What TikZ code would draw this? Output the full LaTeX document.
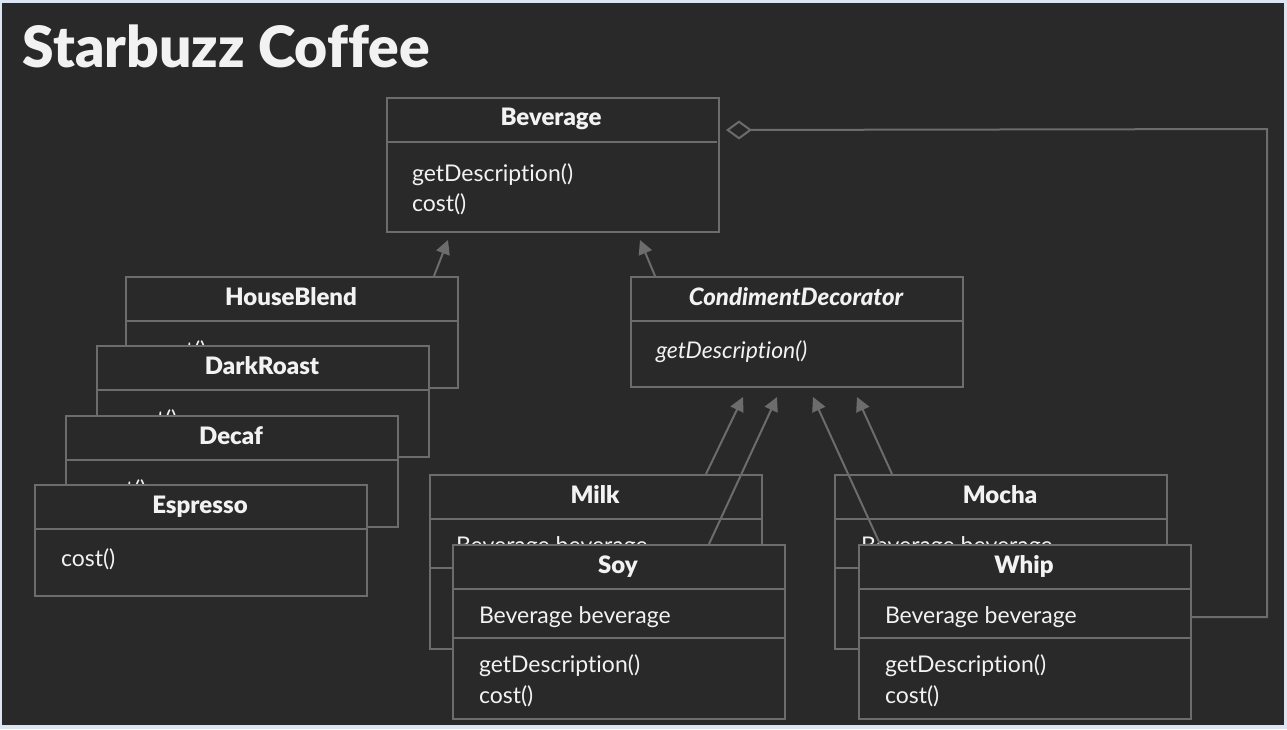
\documentclass[tikz,border=0pt]{standalone}
\usepackage{fontspec}
\setmainfont{Lato}[Ligatures=NoCommon]
\newfontfamily\heavyfont{Lato Black}[Ligatures=NoCommon]
\usetikzlibrary{arrows.meta}
\definecolor{bgc}{HTML}{292929}
\definecolor{framec}{HTML}{DCE6F2}
\definecolor{linec}{HTML}{6C6C6C}
\definecolor{textc}{HTML}{F2F2F2}

\begin{document}
\begin{tikzpicture}[x=1pt, y=-1pt, line width=2pt,
    box/.style={draw=linec, fill=bgc, anchor=north west, inner sep=0pt, minimum width=332pt},
    cname/.style={text=textc, font=\fontsize{24}{28}\selectfont\heavyfont, anchor=base, inner sep=0pt},
    member/.style={text=textc, font=\fontsize{23}{27}\selectfont, anchor=base west, inner sep=0pt},
    isa/.style={draw=linec, -{Triangle[length=14pt, width=14pt]}}]
    % page: light frame, dark board (pixel units, y down)
    \fill[framec] (0,0) rectangle (1287,729);
    \fill[bgc] (2,3) rectangle (1284,725);
    \useasboundingbox (0,0) rectangle (1287,729);
    \node[text=textc, font=\fontsize{57}{60}\selectfont\heavyfont, anchor=base west, inner sep=0pt]
      (title) at (22,67) {Starbuzz Coffee};

    % Beverage
    \node[box, minimum height=134pt] (bev) at (386,97) {};
    \draw[linec] (386,142) -- (717,142);
    \node[cname] (bev-t) at (551,125) {Beverage};
    \node[member] (bev-m1) at (411,181) {getDescription()};
    \node[member] (bev-m2) at (411,211) {cost()};

    % concrete beverages, stacked back to front
    \foreach \n/\t/\x/\y in {hb/HouseBlend/125/276, dr/DarkRoast/96/345, dc/Decaf/65/415, es/Espresso/34/484} {
      \node[box, minimum height=111pt] (\n) at (\x,\y) {};
      \draw[linec] (\x,\y+45) -- (\x+332,\y+45);
      \node[cname] (\n-t) at (\x+166,\y+29) {\t};
      \node[member] (\n-m) at (\x+26,\y+82) {cost()};
    }

    % CondimentDecorator
    \node[box, minimum height=110pt] (cd) at (630,276) {};
    \draw[linec] (630,321) -- (962,321);
    \node[cname, font=\fontsize{24}{28}\selectfont\heavyfont\itshape] (cd-t) at (796,305) {CondimentDecorator};
    \node[member, font=\fontsize{23}{27}\selectfont\itshape] (cd-m) at (655,358) {getDescription()};

    % condiments
    \foreach \n/\t/\x/\y in {milk/Milk/429/474, soy/Soy/452/544, mocha/Mocha/834/474, whip/Whip/858/544} {
      \node[box, minimum height=174pt] (\n) at (\x,\y) {};
      \draw[linec] (\x,\y+45) -- (\x+332,\y+45);
      \draw[linec] (\x,\y+94) -- (\x+332,\y+94);
      \node[cname] (\n-t) at (\x+166,\y+29) {\t};
      \node[member] (\n-a) at (\x+26,\y+79) {Beverage beverage};
      \node[member] (\n-m1) at (\x+26,\y+128) {getDescription()};
      \node[member] (\n-m2) at (\x+26,\y+159) {cost()};
    }

    % inheritance
    \draw[isa] ([xshift=-25pt]hb.north east) -- ([shift={(62pt,-7pt)}]bev.south west);
    \draw[isa] ([xshift=25pt]cd.north west) -- ([shift={(-80pt,-7pt)}]bev.south east);
    \draw[isa] ([xshift=277pt]milk.north west) -- ([shift={(113pt,-9pt)}]cd.south west);
    \draw[isa] ([xshift=257pt]soy.north west) -- ([shift={(147pt,-9pt)}]cd.south west);
    \draw[isa] ([xshift=22pt]whip.north west) -- ([shift={(183pt,-9pt)}]cd.south west);
    \draw[isa] ([xshift=58pt]mocha.north west) -- ([shift={(227pt,-9pt)}]cd.south west);

    % aggregation back to Beverage
    \coordinate (agg) at (1267,129);
    \draw[linec, -{Diamond[open, length=26pt, width=19pt]}]
      ([yshift=15pt]whip.east) -| (agg) -- ([shift={(6pt,35pt)}]bev.east);
  \end{tikzpicture}
\end{document}
